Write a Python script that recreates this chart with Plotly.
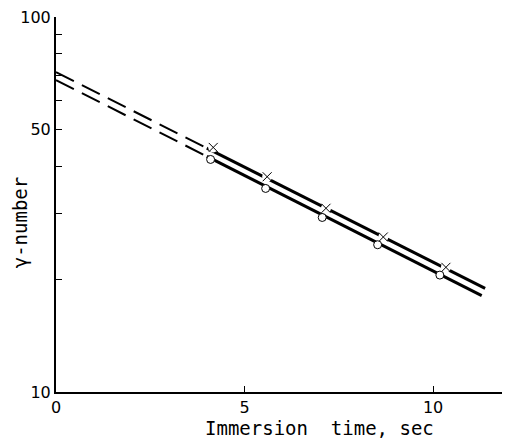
import plotly.graph_objects as go

# Data
time_cross = [4.17, 5.60, 7.16, 8.68, 10.34]
gamma_cross = [44.9, 37.5, 30.9, 25.9, 21.5]
time_circle = [4.10, 5.56, 7.06, 8.53, 10.18]
gamma_circle = [41.7, 34.9, 29.2, 24.7, 20.5]

# fitted lines (extrapolated part dashed)
upper_dash_t = [0, 4.0]
upper_dash_g = [71.3, 44.7]
upper_solid_t = [4.0, 11.38]
upper_solid_g = [44.7, 18.9]
lower_dash_t = [0, 4.0]
lower_dash_g = [67.9, 42.5]
lower_solid_t = [4.0, 11.29]
lower_solid_g = [42.5, 18.07]

y_tickvals = [10, 20, 30, 40, 50, 60, 70, 80, 90, 100]
y_ticktext = ["10", "", "", "", "50", "", "", "", "", "100"]
x_tickvals = [0, 5, 10]
x_ticktext = ["0", "5", "10"]

FONT = "DejaVu Sans"
MONO = "DejaVu Sans Mono"
fig = go.Figure()

for t, g, w, d in [
    (upper_dash_t, upper_dash_g, 2, "20px,9px"),
    (lower_dash_t, lower_dash_g, 2, "20px,9px"),
    (upper_solid_t, upper_solid_g, 3, "solid"),
    (lower_solid_t, lower_solid_g, 3, "solid"),
]:
    fig.add_trace(go.Scatter(x=t, y=g, mode="lines",
                             line=dict(color="black", width=w, dash=d),
                             hoverinfo="skip"))

# white backing behind crosses (gap in line)
fig.add_trace(go.Scatter(x=time_cross, y=gamma_cross, mode="markers",
                         marker=dict(symbol="circle", size=10, color="white",
                                     line=dict(width=0))))
fig.add_trace(go.Scatter(x=time_cross, y=gamma_cross, mode="markers",
                         marker=dict(symbol="x-thin-open", size=9, color="black",
                                     line=dict(width=1, color="black"))))
fig.add_trace(go.Scatter(x=time_circle, y=gamma_circle, mode="markers",
                         marker=dict(symbol="circle", size=8, color="white",
                                     line=dict(width=1, color="black"))))

fig.update_layout(
    width=502, height=432,
    margin=dict(l=48, r=0, t=9, b=48),
    paper_bgcolor="white", plot_bgcolor="white",
    showlegend=False,
    font=dict(family=FONT, size=16, color="black"),
    xaxis=dict(range=[0, 12.04], tickvals=x_tickvals, ticktext=x_ticktext,
               ticks="inside", ticklen=6, tickwidth=1, tickcolor="black",
               showline=True, linecolor="black", linewidth=2,
               showgrid=False, zeroline=False, ticklabeloverflow="allow"),
    yaxis=dict(type="log", range=[1, 2], tickvals=y_tickvals, ticktext=y_ticktext,
               ticks="inside", ticklen=6, tickwidth=1, tickcolor="black",
               showline=True, linecolor="black", linewidth=2,
               showgrid=False, zeroline=False, ticklabeloverflow="allow"),
    annotations=[
        dict(text="Immersion  time, sec", xref="paper", yref="paper",
             x=0.581, y=-0.096, xanchor="center", yanchor="middle",
             showarrow=False, font=dict(family=MONO, size=19)),
        dict(text="γ-number", xref="paper", yref="paper",
             x=-0.079, y=0.453, xanchor="center", yanchor="middle",
             textangle=-90, showarrow=False, font=dict(family=MONO, size=19)),
    ],
)

fig.write_html("out.html")
